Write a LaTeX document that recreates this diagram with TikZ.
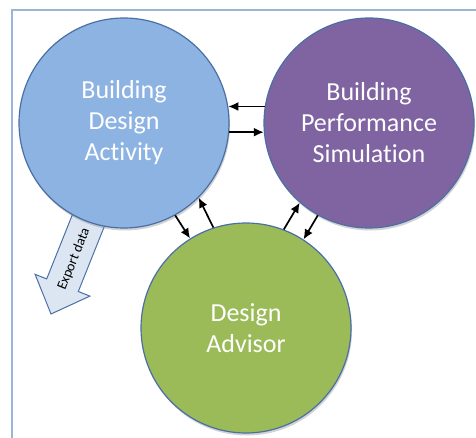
\documentclass[tikz,border=0pt]{standalone}
\usepackage{fontspec}
\setmainfont{Carlito}[Ligatures=NoCommon]
\usetikzlibrary{arrows.meta,shadows}
\definecolor{activityblue}{HTML}{8DB3E2}
\definecolor{simpurple}{HTML}{8064A2}
\definecolor{advisorgreen}{HTML}{9BBB59}
\definecolor{rimblue}{HTML}{4A6FA5}
\definecolor{framecolor}{HTML}{9BB5D8}
\definecolor{exportfill}{HTML}{DCE6F2}
\begin{document}
\begin{tikzpicture}
[x=1pt,y=1pt,%
  every node/.style={inner sep=0pt},%
  stage/.style={shape=circle,minimum size=210pt,draw=rimblue,line width=1.2pt,%
    text=white,align=center,font=\fontsize{26}{31}\selectfont,%
    drop shadow={opacity=0.35,shadow xshift=1pt,shadow yshift=-2.5pt}},%
  link/.style={-{Latex[length=10pt,width=9pt]},line width=1.7pt}]
\useasboundingbox (0,0) rectangle (476,437);
\draw[line width=2pt,framecolor] (12,-2) |- (478,427);
% export arrow
\filldraw[fill=exportfill,draw=rimblue,line width=1pt,line join=miter]
  (51,123) -- (89.9,140.9) -- (78.3,145.5) -- (111.7,229) -- (80.1,241.6)
  -- (46.7,158.1) -- (35.1,162.7) -- cycle;
\node[rotate=68,font=\fontsize{14}{16}\selectfont] (export) at (74,178) {Export data};
% stages
\node[stage,fill=activityblue] (bda) at (124,314) {Building\\Design\\Activity};
\node[stage,fill=simpurple] (bps) at (369,314) {Building\\Performance\\Simulation};
\node[stage,fill=advisorgreen] (da) at (246,109) {Design\\Advisor};
% links
\draw[link] (bps.171) -- (bda.9);
\draw[link] (bda.-5) -- (bps.185);
\draw[link] (bda.-61) -- (da.122);
\draw[link] (da.108) -- (bda.-45);
\draw[link] (da.69) -- (bps.229);
\draw[link] (bps.241) -- (da.57);
\end{tikzpicture}
\end{document}
